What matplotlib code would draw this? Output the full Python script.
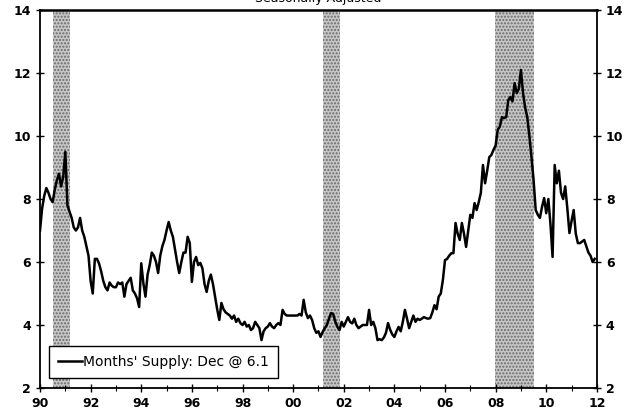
import numpy as np
import matplotlib.pyplot as plt

# months' supply of new homes, monthly, Jan 1990 - Dec 2011
y1990 = [7.0, 7.7, 8.1, 8.35, 8.2, 8.0, 7.9, 8.3, 8.6, 8.8, 8.4, 8.7]
y1991 = [9.5, 7.8, 7.6, 7.4, 7.1, 7.0, 7.1, 7.4, 7.0, 6.8, 6.5, 6.2]
y1992 = [5.4, 5.0, 6.1, 6.1, 5.95, 5.7, 5.4, 5.2, 5.1, 5.35, 5.25, 5.2]
y1993 = [5.2, 5.35, 5.3, 5.35, 4.9, 5.3, 5.4, 5.5, 5.1, 5.0, 4.85, 4.57]
y1994 = [5.96, 5.33, 4.9, 5.6, 5.9, 6.3, 6.2, 6.0, 5.65, 6.2, 6.5, 6.7]
y1995 = [7.0, 7.27, 7.0, 6.8, 6.4, 6.0, 5.65, 6.0, 6.3, 6.3, 6.8, 6.6]
y1996 = [5.37, 6.0, 6.16, 5.9, 5.97, 5.8, 5.3, 5.05, 5.4, 5.6, 5.3, 4.9]
y1997 = [4.5, 4.16, 4.7, 4.5, 4.4, 4.35, 4.3, 4.2, 4.3, 4.1, 4.2, 4.06]
y1998 = [4.0, 4.1, 3.95, 4.0, 3.84, 3.9, 4.1, 4.0, 3.9, 3.52, 3.8, 3.9]
y1999 = [3.95, 4.06, 3.95, 3.9, 4.0, 4.06, 4.0, 4.48, 4.35, 4.3, 4.3, 4.3]
y2000 = [4.3, 4.3, 4.3, 4.35, 4.3, 4.8, 4.4, 4.22, 4.3, 4.16, 3.9, 3.75]
y2001 = [3.8, 3.62, 3.78, 3.9, 4.0, 4.2, 4.38, 4.35, 4.1, 3.94, 3.84, 4.1]
y2002 = [3.95, 4.1, 4.25, 4.1, 4.05, 4.2, 4.0, 3.9, 3.95, 4.0, 4.0, 4.0]
y2003 = [4.48, 4.0, 4.1, 3.9, 3.52, 3.55, 3.52, 3.6, 3.75, 4.06, 3.85, 3.7]
y2004 = [3.62, 3.8, 3.94, 3.8, 4.1, 4.48, 4.2, 3.9, 4.1, 4.3, 4.1, 4.2]
y2005 = [4.16, 4.2, 4.25, 4.22, 4.2, 4.22, 4.4, 4.63, 4.5, 4.9, 5.0, 5.43]
y2006 = [6.06, 6.1, 6.2, 6.28, 6.28, 7.24, 6.9, 6.7, 7.24, 6.9, 6.48, 7.0]
y2007 = [7.5, 7.4, 7.87, 7.65, 7.9, 8.2, 9.08, 8.5, 8.9, 9.33, 9.4, 9.56]
y2008 = [9.7, 10.2, 10.3, 10.6, 10.57, 10.6, 11.14, 11.24, 11.1, 11.68, 11.36, 11.5]
y2009 = [12.1, 11.36, 10.9, 10.6, 10.0, 9.33, 8.6, 7.65, 7.5, 7.4, 7.75, 8.03]
y2010 = [7.55, 8.0, 7.2, 6.16, 9.08, 8.5, 8.9, 8.2, 8.0, 8.4, 7.7, 6.92]
y2011 = [7.3, 7.65, 6.9, 6.6, 6.6, 6.65, 6.7, 6.5, 6.3, 6.2, 6.0, 6.1]

supply = (y1990 + y1991 + y1992 + y1993 + y1994 + y1995 + y1996 + y1997
          + y1998 + y1999 + y2000 + y2001 + y2002 + y2003 + y2004 + y2005
          + y2006 + y2007 + y2008 + y2009 + y2010 + y2011)
dates = 1990 + np.arange(len(supply)) / 12.0

# recessions (start, end) in decimal years
recessions = [(1990.5, 1991.2), (2001.17, 2001.87), (2007.97, 2009.5)]

xticks = list(range(1990, 2013, 2))
xlabels = ["90", "92", "94", "96", "98", "00", "02", "04", "06", "08", "10", "12"]
yticks = [2, 4, 6, 8, 10, 12, 14]

plt.rcParams['font.family'] = ['DejaVu Sans']

fig = plt.figure(figsize=(6.37, 4.19), dpi=100)
ax = fig.add_axes([0.0628, 0.074, 0.8742, 0.902])

for s, e in recessions:
    ax.axvspan(s, e, facecolor='#c6c6c6', edgecolor='#6a6a6a', hatch='.....',
               linewidth=0, zorder=0)

ax.plot(dates, supply, color='black', lw=1.8, zorder=3,
        label="Months' Supply: Dec @ 6.1")

ax.set_xlim(1990, 2012)
ax.set_ylim(2, 14)
ax.set_xticks(xticks)
ax.set_xticklabels(xlabels)
ax.set_xticks(range(1990, 2013), minor=True)
ax.set_yticks(yticks)
ax.tick_params(axis='both', which='major', direction='inout', length=6,
               width=1, labelsize=9, right=True, labelright=True)
ax.tick_params(axis='x', which='minor', direction='inout', length=4, width=0.8)
for lab in ax.get_xticklabels() + ax.yaxis.get_majorticklabels():
    lab.set_fontweight('bold')
for lab in ax.yaxis.get_ticklabels(which='major'):
    lab.set_fontweight('bold')

for sp in ax.spines.values():
    sp.set_linewidth(1.3)
ax.spines['top'].set_linewidth(1.8)

leg = ax.legend(loc='lower left', bbox_to_anchor=(0.016, 0.026), fontsize=10,
                frameon=True, fancybox=False, framealpha=1, edgecolor='black',
                handlelength=1.7, handletextpad=0.1, borderpad=0.65,
                borderaxespad=0)
leg.get_frame().set_linewidth(1.0)
leg.set_zorder(5)

fig.text(0.5, 1.003, "Seasonally Adjusted", ha='center', va='center',
         fontsize=9)

fig.savefig("out.png", dpi=100)
